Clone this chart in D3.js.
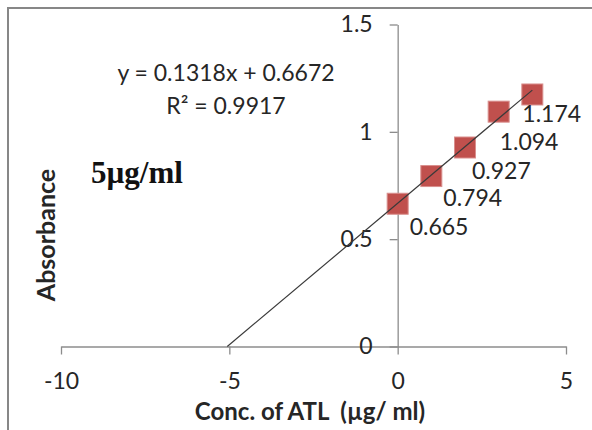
<!DOCTYPE html>
<html lang="en">
<head>
    <meta charset="UTF-8">
    <title>Absorbance</title>
    <script src="https://cdn.jsdelivr.net/npm/d3@7"></script>
    <style>
        body { margin: 0; background: #fff; }
        text { font-family: Lato, "Liberation Sans", sans-serif; fill: #262626; }
    </style>
</head>
<body>
<script type="text/javascript">
    // data
    var conc = [0, 1, 2, 3, 4];
    var absorb = [0.665, 0.794, 0.927, 1.094, 1.174];
    var pointLabels = ["0.665", "0.794", "0.927", "1.094", "1.174"];
    var xTicks = [-10, -5, 0, 5];
    var yTicks = [0, 0.5, 1, 1.5];
    var slope = 0.1318, intercept = 0.6672, r2 = 0.9917;

    // hand nudges of the data labels (dx, dy from marker centre)
    var labelNudge = [[12, 23], [12, 22], [7, 23], [1, 30], [-10, 19]];

    var width = 592, height = 430;
    var svg = d3.select("body").append("svg")
            .attr("width", width)
            .attr("height", height);

    // gray frame, only top and left edges show
    svg.append("rect")
            .attr("x", 8).attr("y", 8)
            .attr("width", 700).attr("height", 500)
            .attr("fill", "none")
            .attr("stroke", "#878787")
            .attr("stroke-width", 2);

    var xScale = d3.scaleLinear().domain([-10, 5]).range([61, 566]);
    var yScale = d3.scaleLinear().domain([0, 1.5]).range([346.5, 24.5]);

    // plain hyphen instead of the unicode minus
    var fmt = function (d) { return d3.format("~g")(d).replace("\u2212", "-"); };

    var xAxis = d3.axisBottom(xScale)
            .tickValues(xTicks)
            .tickSize(8)
            .tickSizeOuter(0)
            .tickPadding(18)
            .tickFormat(fmt);
    var yAxis = d3.axisLeft(yScale)
            .tickValues(yTicks)
            .tickSize(8)
            .tickSizeOuter(0)
            .tickPadding(17)
            .tickFormat(fmt);

    var gx = svg.append("g")
            .attr("transform", "translate(0," + yScale(0) + ")")
            .call(xAxis);
    var gy = svg.append("g")
            .attr("transform", "translate(" + xScale(0) + ",0)")
            .call(yAxis);

    [gx, gy].forEach(function (g) {
        g.selectAll("path, line").attr("stroke", "#8c8c8c").attr("stroke-width", 1.3);
        g.selectAll("text")
                .attr("font-family", "Lato, 'Liberation Sans', sans-serif")
                .attr("font-size", "23px")
                .attr("fill", "#262626");
    });

    // linear trendline from the x intercept up to the last point
    var x0 = -intercept / slope;
    var x1 = d3.max(conc);
    var line = d3.line()
            .x(function (d) { return xScale(d); })
            .y(function (d) { return yScale(slope * d + intercept); });

    // square markers
    var size = 21;
    svg.selectAll("rect.pt")
            .data(conc)
            .enter()
            .append("rect")
            .attr("class", "pt")
            .attr("x", function (d) { return xScale(d) - size / 2; })
            .attr("y", function (d, i) { return yScale(absorb[i]) - size / 2; })
            .attr("width", size)
            .attr("height", size)
            .attr("fill", "#c0504d")
            .attr("stroke", "#d98f8d")
            .attr("stroke-width", 1);

    // trendline on top so it crosses the markers
    svg.append("path")
            .datum([x0, x1])
            .attr("d", line)
            .attr("fill", "none")
            .attr("stroke", "#3a3a3a")
            .attr("stroke-width", 1.2);

    svg.selectAll("text.lbl")
            .data(conc)
            .enter()
            .append("text")
            .attr("class", "lbl")
            .attr("x", function (d, i) { return xScale(d) + labelNudge[i][0]; })
            .attr("y", function (d, i) { return yScale(absorb[i]) + labelNudge[i][1]; })
            .attr("dy", "0.35em")
            .attr("font-size", "23px")
            .text(function (d, i) { return pointLabels[i]; });

    // equation and R²
    svg.append("text")
            .attr("x", 226).attr("y", 73).attr("dy", "0.35em")
            .attr("text-anchor", "middle")
            .attr("font-size", "23px")
            .text("y = " + slope + "x + " + intercept);
    svg.append("text")
            .attr("x", 226).attr("y", 106).attr("dy", "0.35em")
            .attr("text-anchor", "middle")
            .attr("font-size", "23px")
            .text("R² = " + r2);

    svg.append("text")
            .attr("x", 91).attr("y", 172).attr("dy", "0.35em")
            .attr("font-weight", "bold")
            .attr("font-size", "31px")
            .style("font-family", "'Liberation Serif', serif")
            .style("fill", "#111")
            .text("5µg/ml");

    // axis titles
    svg.append("text")
            .attr("x", 310).attr("y", 412).attr("dy", "0.35em")
            .attr("text-anchor", "middle")
            .attr("font-weight", "bold")
            .attr("font-size", "24px")
            .style("white-space", "pre")
            .text("Conc. of ATL  (µg/ ml)");

    svg.append("text")
            .attr("transform", "translate(46,235) rotate(-90)")
            .attr("dy", "0.35em")
            .attr("text-anchor", "middle")
            .attr("font-weight", "bold")
            .attr("font-size", "25px")
            .text("Absorbance");
</script>
</body>
</html>
